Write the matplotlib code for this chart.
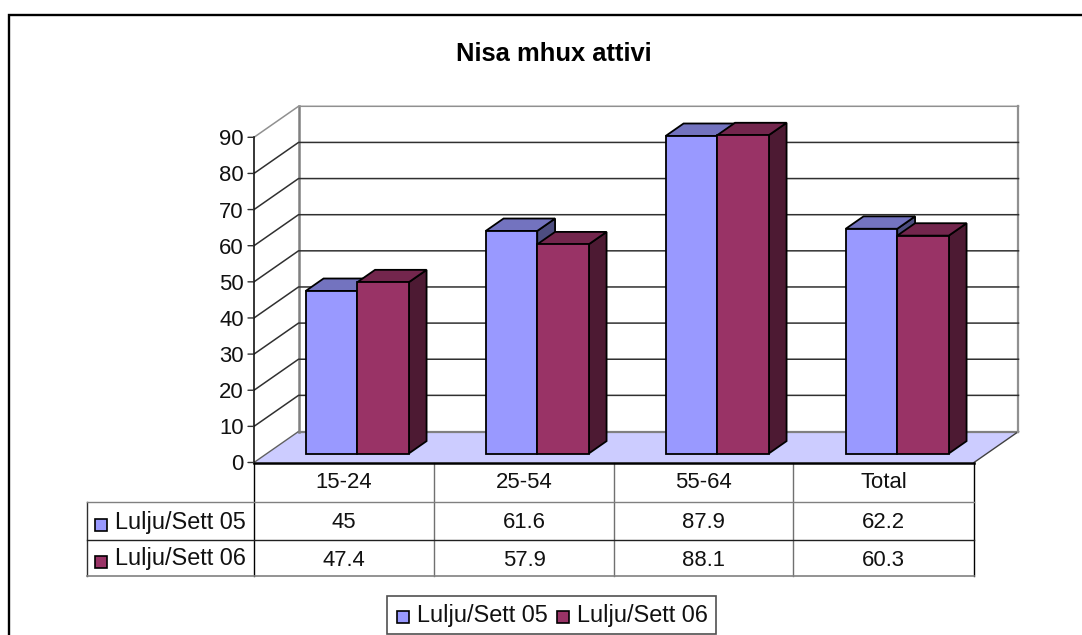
import matplotlib
matplotlib.use('Agg')
import matplotlib.pyplot as plt
from matplotlib.patches import Polygon, Rectangle

plt.rcParams['font.family'] = ['Liberation Sans', 'DejaVu Sans']

title = 'Nisa mhux attivi'
categories = ['15-24', '25-54', '55-64', 'Total']
series_names = ['Lulju/Sett 05', 'Lulju/Sett 06']
series_05 = [45, 61.6, 87.9, 62.2]
series_06 = [47.4, 57.9, 88.1, 60.3]
y_ticks = [0, 10, 20, 30, 40, 50, 60, 70, 80, 90]

W, H = 1082, 635
colors = [('#9999FF', '#7373BF', '#4D4D80'), ('#993366', '#73264D', '#4D1A33')]
FS = 15.9
FS_NAME = 16.9

fig = plt.figure(figsize=(W / 100, H / 100), dpi=100, facecolor='white')

# pixel axes for frame, title, table and legend
bg = fig.add_axes([0, 0, 1, 1])
bg.set_xlim(0, W)
bg.set_ylim(H, 0)
bg.axis('off')

# chart axes: front plane of the 3d box, x in categories, y in values
left, right, y0, y90 = 254, 974, 462.5, 137.3
ax = fig.add_axes([left / W, 1 - y0 / H, (right - left) / W, (y0 - y90) / H])
ax.set_xlim(0, 4)
ax.set_ylim(0, 90)
ax.axis('off')
ax.patch.set_alpha(0)

dx = 44.5 / (right - left) * 4   # depth in x units
dy = 31 / (y0 - y90) * 90        # depth in value units


def pt(x, v, d):
    return (x + d * dx, v + d * dy)


def poly(pts, fc='none', ec='black', lw=1.3, z=3):
    ax.add_patch(Polygon(pts, closed=True, facecolor=fc, edgecolor=ec, linewidth=lw,
                         zorder=z, clip_on=False, joinstyle='miter'))


# floor and back wall
poly([pt(0, 0, 0), pt(4, 0, 0), pt(4, 0, 1), pt(0, 0, 1)], fc='#CCCCFF', ec='none', z=1)
ax.plot(*zip(pt(0, 0, 1), pt(4, 0, 1)), color='#808080', lw=1.6, zorder=1.5, clip_on=False)
ax.plot(*zip(pt(0, 0, 0), pt(0, 0, 1)), color='#606060', lw=1, zorder=1.5, clip_on=False)
ax.plot(*zip(pt(4, 0, 0), pt(4, 0, 1)), color='#404040', lw=1, zorder=1.5, clip_on=False)
ax.plot(*zip(pt(0, 0, 1), pt(0, 90, 1)), color='#808080', lw=1.8, zorder=1.5, clip_on=False)
ax.plot(*zip(pt(4, 0, 1), pt(4, 90, 1)), color='#909090', lw=1.6, zorder=1.5, clip_on=False)
for t in y_ticks[1:]:
    c = '#909090' if t == 90 else '#303030'
    ax.plot(*zip(pt(0, t, 0), pt(0, t, 1), pt(4, t, 1)), color=c, lw=1.1, zorder=1.5, clip_on=False)

# value axis
ax.plot([0, 0], [0, 90], color='black', lw=1.1, zorder=2, clip_on=False)
for t in y_ticks:
    ax.annotate('', xy=(0, t), xytext=(-6, 0), textcoords='offset pixels', annotation_clip=False,
                arrowprops=dict(arrowstyle='-', color='#303030', lw=1, shrinkA=0, shrinkB=0))
    ax.annotate(str(t), xy=(0, t), xytext=(-10, 0), textcoords='offset pixels', ha='right',
                va='center_baseline', fontsize=FS, color='#111111', annotation_clip=False)
ax.plot([0, 4], [0, 0], color='black', lw=1.8, zorder=2, clip_on=False)

# bars, back to front within a group
bar_w = 51.5 / 180
front_d, back_d = 0.29, 0.69
for i, cat in enumerate(categories):
    start = i + 0.5 - bar_w + 0.002
    for j, vals in enumerate([series_05, series_06]):
        x0, x1, v = start + j * bar_w, start + (j + 1) * bar_w, vals[i]
        f, t, s = colors[j]
        poly([pt(x1, 0, front_d), pt(x1, 0, back_d), pt(x1, v, back_d), pt(x1, v, front_d)], fc=s)
        poly([pt(x0, v, front_d), pt(x1, v, front_d), pt(x1, v, back_d), pt(x0, v, back_d)], fc=t)
        poly([pt(x0, 0, front_d), pt(x1, 0, front_d), pt(x1, v, front_d), pt(x0, v, front_d)], fc=f)

# frame and title
bg.plot([9, 9, W], [H, 14.5, 14.5], color='black', lw=1.7, solid_joinstyle='miter')
bg.text(553.5, 54, title, ha='center', va='center', fontsize=18.4, fontweight='bold', color='black')

# data table
col_x = [254, 434, 614, 793, 974]
row_y = [462.5, 502, 540, 576]
tbl_left = 87
bg.plot([254, 254], [row_y[0], row_y[3]], color='black', lw=1)
bg.plot([974, 974], [row_y[0], row_y[3]], color='black', lw=1)
for x in col_x[1:4]:
    bg.plot([x, x], [row_y[0], row_y[3]], color='#707070', lw=1)
bg.plot([tbl_left, tbl_left], [row_y[1], row_y[3]], color='#303030', lw=1)
bg.plot([tbl_left, 974], [row_y[1], row_y[1]], color='#808080', lw=1)
bg.plot([tbl_left, 974], [row_y[2], row_y[2]], color='#202020', lw=1)
bg.plot([tbl_left, 974], [row_y[3], row_y[3]], color='#808080', lw=1.2)

for i, cat in enumerate(categories):
    cx = (col_x[i] + col_x[i + 1]) / 2
    bg.text(cx, 483, cat, ha='center', va='center', fontsize=FS, color='#111111')
    bg.text(cx, 523, str(series_05[i]), ha='center', va='center', fontsize=FS, color='#111111')
    bg.text(cx, 560, str(series_06[i]), ha='center', va='center', fontsize=FS, color='#111111')

for name, c, y in zip(series_names, colors, [519, 555.5]):
    bg.add_patch(Rectangle((94.5, y), 12.5, 12, facecolor=c[0], edgecolor='black', lw=1.2))
    bg.text(115, y + 3, name, ha='left', va='center', fontsize=FS_NAME, color='#111111')

# legend
bg.add_patch(Rectangle((387, 596), 329, 38, facecolor='white', edgecolor='#505050', lw=1.2))
for name, c, sx, tx in zip(series_names, colors, [397, 557], [417, 577]):
    bg.add_patch(Rectangle((sx, 611), 12, 12, facecolor=c[0], edgecolor='black', lw=1.2))
    bg.text(tx, 615.5, name, ha='left', va='center', fontsize=FS_NAME, color='#111111')

fig.savefig('out.png', dpi=100, facecolor='white')
